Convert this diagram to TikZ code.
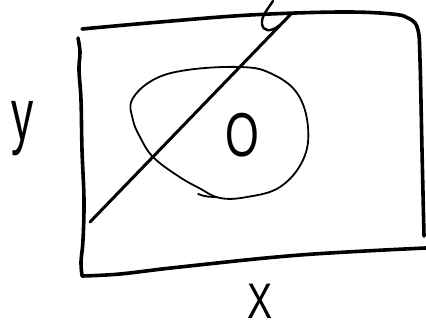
\documentclass[tikz,border=0pt]{standalone}
\usepackage{fontspec}
\setmainfont{Liberation Sans}
\begin{document}
\begin{tikzpicture}[x=1pt,y=-1pt, line cap=round, line join=round,
  frame/.style={line width=3.6pt},
  diag/.style={line width=3pt},
  blob/.style={line width=1.8pt},
  lbl/.style={inner sep=0pt, anchor=base}]
\useasboundingbox (0,0) rectangle (426,331);
% frame
\draw[frame] plot[smooth, tension=0.6] coordinates {(82,29) (160,22) (250,15) (340,12) (392,14) (410,19) (418,30) (420,60) (422,150) (424,236)};
\draw[frame] plot[smooth, tension=0.6] coordinates {(78,38) (80,52) (79,70) (81,100) (82,150) (84,200) (83,240) (81,262) (82,275)};
\draw[frame] plot[smooth, tension=0.6] coordinates {(82,276) (120,274) (180,267) (300,255) (426,248)};
% diagonal line
\draw[diag] (90,222) -- (291,14);
\draw[line width=2.4pt] (273,1) .. controls (268,9) and (261,16) .. (262,24) .. controls (263,31) and (270,33) .. (280,25);
% blob
\draw[blob] plot[smooth cycle, tension=0.65] coordinates {(132,100) (153,80) (187,70) (240,67) (270,73) (297,93) (308,127) (303,160) (280,187) (247,197) (220,198) (199,188) (178,176) (153,157) (140,137) (133,120)};
\draw[blob] (198,194) .. controls (205,197) and (212,197) .. (217,197);
% labels
\node[lbl, font=\fontsize{74}{74}\selectfont, xscale=0.6] (ylab) at (23,141) {y};
\node[lbl, font=\fontsize{50}{50}\selectfont, xscale=0.75] (xlab) at (260,319) {X};
\node[lbl, font=\fontsize{62}{62}\selectfont, xscale=0.7] (olab) at (242,157) {O};
\end{tikzpicture}
\end{document}
